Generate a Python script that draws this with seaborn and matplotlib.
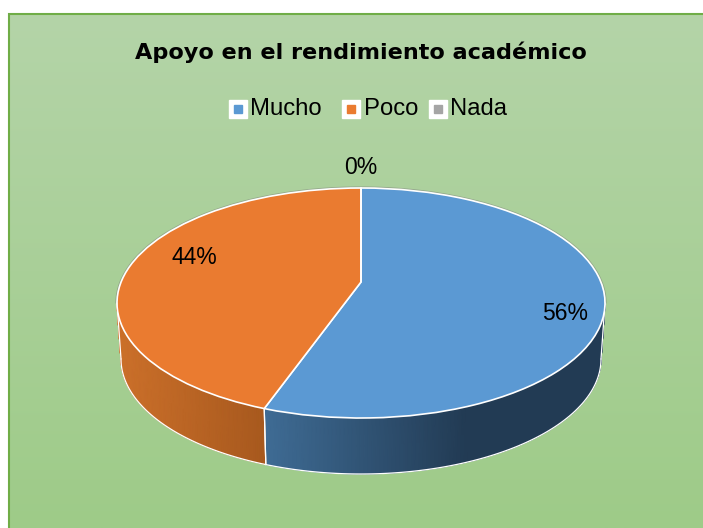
import numpy as np
import matplotlib
matplotlib.use("Agg")
import matplotlib.pyplot as plt
import seaborn as sns

# --- data ---
categories = ["Mucho", "Poco", "Nada"]
shares = [56.49, 43.51, 0.0]
slice_colors = ["#5b99d3", "#ea7b30", "#a5a5a5"]

title_text = "Apoyo en el rendimiento académico"

# pixel layout of the reference
W, H = 703, 528
CX, CY, RX, RY = 361, 303, 244, 115
APEX_LIFT = 21  # the tilted pie has its tip above the middle of the ellipse
DEPTH = 56
BOTTOM_RX = 240

sns.set_theme(style="white")
plt.rcParams["font.family"] = ["Liberation Sans", "DejaVu Sans"]

fig = plt.figure(figsize=(W / 100, H / 100), dpi=100, facecolor="white")

# --- background panel, in pixels ---
bg = fig.add_axes([0, 0, 1, 1])
panel = sns.blend_palette(["#b4d4a8", "#9ecb88"], as_cmap=True)
bg.imshow(np.linspace(0, 1, 256).reshape(-1, 1), cmap=panel, aspect="auto",
          extent=[9, W, H, 14], zorder=0)
bg.set_xlim(0, W)
bg.set_ylim(H, 0)
bg.axis("off")
bg.plot([9, 9, W], [H, 14, 14], color="#70ad47", lw=1.5, solid_joinstyle="miter", zorder=1)

# --- pie, one x unit = RX px and one y unit = RY px ---
ax = fig.add_axes([0, 0, 1, 1])
ax.patch.set_alpha(0)
wedges, _ = ax.pie(shares, colors=slice_colors, startangle=90, counterclock=False, radius=1,
                   wedgeprops={"edgecolor": "white", "linewidth": 1.2, "zorder": 3})
for w in wedges:
    v = w.get_path().vertices
    v[np.all(np.isclose(v, 0), axis=1)] = (0, APEX_LIFT / RY)
ax.set_aspect("auto")
ax.axis("off")

# faint rim on the back of the disc
back = np.radians(np.linspace(-90, 90, 200))
ax.plot(1.004 * np.sin(back), 1.008 * np.cos(back), color="#777777", lw=1.0, alpha=0.45, zorder=2)

# side wall: front half of the disc, split where the slices meet
edge = 360 * np.cumsum(shares) / np.sum(shares)
walls = [
    (90, edge[0], ["#3f6c95", "#223b54", "#223b54"], [-0.40, 0.43, 1.0]),
    (edge[0], 270, ["#cc702a", "#a8591e"], [-1.0, -0.40]),
]
drop = DEPTH / RY
for start, stop, shades, stops in walls:
    theta = np.radians(np.linspace(start, stop, 120))
    top_x, top_y = np.sin(theta), np.cos(theta)
    low_x, low_y = BOTTOM_RX / RX * np.sin(theta), np.cos(theta) - drop
    X = np.vstack([top_x, low_x])
    Y = np.vstack([top_y, low_y])
    cmap = sns.blend_palette(shades, as_cmap=True)
    t = np.interp(X, stops, np.linspace(0, 1, len(stops)))
    ax.pcolormesh(X, Y, t, cmap=cmap, shading="gouraud", vmin=0, vmax=1, zorder=1)
    ax.plot(low_x, low_y, color="white", lw=0.9, zorder=2)
    ax.plot(X[:, 0], Y[:, 0], color="white", lw=0.9, zorder=2)
    ax.plot(X[:, -1], Y[:, -1], color="white", lw=0.9, zorder=2)
ax.set_xlim(-CX / RX, (W - CX) / RX)
ax.set_ylim((CY - H) / RY, CY / RY)


def put(x, y, text, **kw):
    fig.text(x / W, 1 - y / H, text, ha=kw.pop("ha", "center"), va="center", color="black", **kw)


# --- texts ---
put(361, 52, title_text, fontsize=16.1, fontweight="bold", family="DejaVu Sans")

for name, share, x, y in zip(categories, shares, [565, 194, 361], [313, 257, 168]):
    put(x, y, f"{share:.0f}%", fontsize=16.5)

# --- legend ---
for name, color, key_x, text_x in zip(categories, slice_colors,
                                      [237.5, 350.5, 437.5], [250, 364, 450]):
    bg.plot([key_x], [109], marker="s", ms=13.6, mfc="white", mec="white", ls="none", zorder=2)
    bg.plot([key_x], [109], marker="s", ms=6, mfc=color, mec=color, ls="none", zorder=3)
    put(text_x, 109, name, fontsize=17.2, ha="left")

fig.savefig("out.png", dpi=100)
